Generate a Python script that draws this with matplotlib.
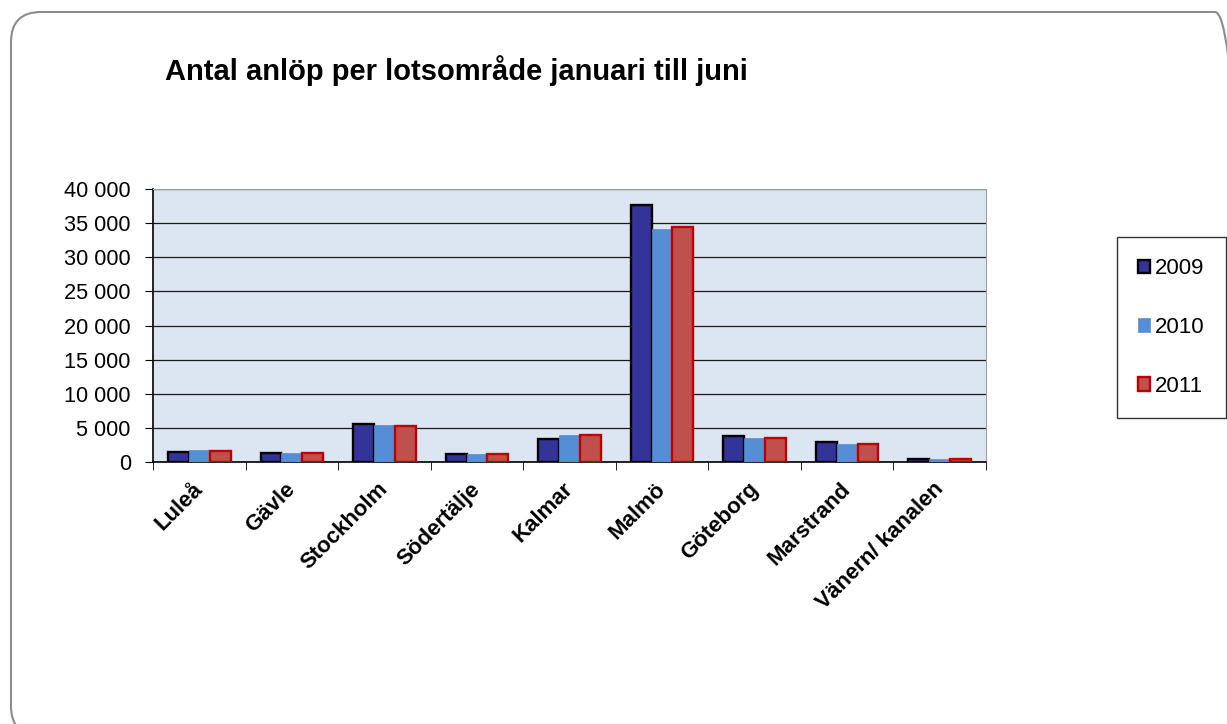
import numpy as np
import matplotlib
matplotlib.use("Agg")
import matplotlib.pyplot as plt
from matplotlib.patches import FancyBboxPatch
from matplotlib.ticker import FuncFormatter, FixedLocator
from matplotlib.transforms import IdentityTransform

plt.rcParams['font.family'] = ['Liberation Sans', 'DejaVu Sans']

areas = ["Luleå", "Gävle", "Stockholm", "Södertälje", "Kalmar",
         "Malmö", "Göteborg", "Marstrand", "Vänern/ kanalen"]
years = ["2009", "2010", "2011"]
v2009 = [1470, 1370, 5520, 1170, 3430, 37600, 3770, 2930, 500]
v2010 = [1700, 1370, 5420, 1130, 4010, 34100, 3520, 2700, 480]
v2011 = [1610, 1350, 5270, 1200, 3900, 34500, 3520, 2600, 470]
yticks = [0, 5000, 10000, 15000, 20000, 25000, 30000, 35000, 40000]

fig = plt.figure(figsize=(12.27, 7.24), dpi=100)

# rounded frame round the whole chart
frame = FancyBboxPatch((11, -12), 1234, 724,
                       boxstyle="round,pad=0,rounding_size=30",
                       transform=IdentityTransform(), facecolor="none",
                       edgecolor="#8c8c8c", linewidth=1.5)
fig.add_artist(frame)

ax = fig.add_axes([153/1227, 1-462/724, 833/1227, 273/724])
ax.set_facecolor("#dce6f2")

x = np.arange(len(areas))
w = 0.225
ax.bar(x - w, v2009, width=w, color="#333399", edgecolor="black",
       linewidth=1.7, label=years[0], zorder=3)
ax.bar(x, v2010, width=w, color="#558ed5", edgecolor="#558ed5",
       linewidth=0.5, label=years[1], zorder=3)
ax.bar(x + w, v2011, width=w, color="#c0504d", edgecolor="#c00000",
       linewidth=1.7, label=years[2], zorder=3)

ax.set_xlim(-0.5, len(areas) - 0.5)
ax.set_ylim(0, 40000)
ax.set_yticks(yticks)
ax.yaxis.set_major_formatter(FuncFormatter(lambda v, p: f"{int(v):,}".replace(",", " ")))
ax.yaxis.grid(True, color="#1a1a1a", linewidth=0.9, zorder=1)
ax.set_axisbelow(True)

# labels sit a little left of the category centre, like in Excel
ax.set_xticks(x - 0.075)
ax.set_xticklabels(areas, rotation=45, ha="right", rotation_mode="anchor",
                   fontsize=16, fontweight="bold")
ax.tick_params(axis="x", which="major", length=0, pad=12)
ax.xaxis.set_minor_locator(FixedLocator(np.arange(-0.5, len(areas), 1.0)))
ax.tick_params(axis="x", which="minor", length=6, direction="out", color="black")
ax.tick_params(axis="y", length=6, direction="out", labelsize=15.7, pad=10)

for s in ["top", "right"]:
    ax.spines[s].set_color("#a0a0a0")
ax.spines["left"].set_color("black")
ax.spines["bottom"].set_color("black")
ax.spines["left"].set_linewidth(1.2)
ax.spines["bottom"].set_linewidth(1.2)

fig.text(165/1227, 1-80/724, "Antal anlöp per lotsområde januari till juni",
         fontsize=21, fontweight="bold", ha="left", va="baseline")

leg = fig.legend(loc="upper left", bbox_to_anchor=(1117/1227, 1-237/724),
                 fontsize=16, frameon=True, fancybox=False, edgecolor="black",
                 handlelength=0.55, handleheight=0.55, handletextpad=0.2,
                 labelspacing=1.7, borderpad=0.95, borderaxespad=0)
leg.get_frame().set_linewidth(1.0)

fig.savefig("out.png", dpi=100)
